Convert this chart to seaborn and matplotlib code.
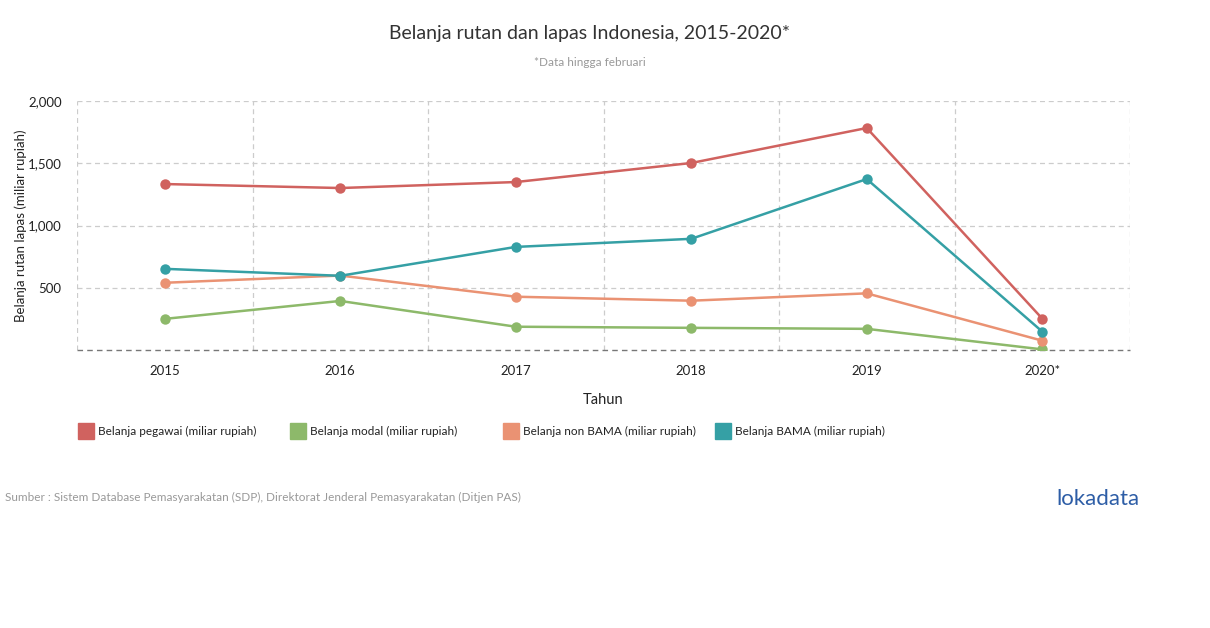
import pandas as pd
import seaborn as sns
import matplotlib.pyplot as plt
from matplotlib.patches import Rectangle

years = ["2015", "2016", "2017", "2018", "2019", "2020*"]
pegawai = [1333, 1301, 1349, 1502, 1783, 252]
modal = [250, 394, 187, 178, 170, 5]
non_bama = [540, 598, 428, 396, 455, 75]
bama = [652, 596, 828, 893, 1373, 148]

series = ["Belanja pegawai (miliar rupiah)", "Belanja modal (miliar rupiah)",
          "Belanja non BAMA (miliar rupiah)", "Belanja BAMA (miliar rupiah)"]
colors = ["#D0625F", "#8DB96A", "#EA9273", "#35A0A5"]

rows = []
for name, vals in zip(series, [pegawai, modal, non_bama, bama]):
    for i, (y, v) in enumerate(zip(years, vals)):
        rows.append({"pos": i, "Tahun": y, "value": v, "series": name})
df = pd.DataFrame(rows)

sns.set_style("white")
plt.rcParams["font.family"] = ["Lato", "DejaVu Sans"]

fig = plt.figure(figsize=(12.1, 6.28), dpi=100)
ax = fig.add_axes([77 / 1210, 1 - 350 / 628, (1130 - 77) / 1210, (350 - 101) / 628])

sns.lineplot(data=df, x="pos", y="value", hue="series", palette=colors,
             marker="o", markersize=7.5, markeredgewidth=0, linewidth=1.8,
             legend=False, ax=ax)

ax.set_xlim(-0.5, 5.5)
ax.set_ylim(0, 2000)
ax.set_xticks(range(len(years)))
ax.set_xticklabels(years)
ax.set_yticks([500, 1000, 1500, 2000])
ax.set_yticklabels(["500", "1,000", "1,500", "2,000"])

# dashed grid, vertical lines between categories
for yv in [500, 1000, 1500, 2000]:
    ax.axhline(yv, color="#cccccc", lw=0.9, ls=(0, (4, 3)), zorder=0)
for xv in [-0.5, 0.5, 1.5, 2.5, 3.5, 4.5, 5.5]:
    ax.axvline(xv, color="#cccccc", lw=0.9, ls=(0, (4, 3)), zorder=0)
ax.axhline(0, color="#777777", lw=1, ls=(0, (4, 3)), zorder=1, clip_on=False)
for s in ax.spines.values():
    s.set_visible(False)

ax.tick_params(axis="both", length=0, labelsize=9.5, colors="#222222")
ax.tick_params(axis="x", pad=11)
ax.tick_params(axis="y", pad=11)
ax.set_xlabel("Tahun", fontsize=10.5, color="#222222", labelpad=11)
ax.set_ylabel("Belanja rutan lapas (miliar rupiah)", fontsize=9.5, color="#222222")
ax.yaxis.set_label_coords(-(77 - 27) / (1130 - 77), 0.5)

fig.text(590 / 1210, 1 - 33 / 628, "Belanja rutan dan lapas Indonesia, 2015-2020*",
         ha="center", va="center", fontsize=14, color="#333333")
fig.text(590 / 1210, 1 - 62 / 628, "*Data hingga februari",
         ha="center", va="center", fontsize=8.5, color="#999999")

# legend
for i, (name, c) in enumerate(zip(series, colors)):
    x0 = 78 + i * 212.3
    fig.add_artist(Rectangle((x0 / 1210, 1 - 439 / 628), 16 / 1210, 16 / 628,
                             transform=fig.transFigure, color=c))
    fig.text((x0 + 20) / 1210, 1 - 431 / 628, name, ha="left", va="center",
             fontsize=8.5, color="#222222")

fig.text(5 / 1210, 1 - 497 / 628,
         "Sumber : Sistem Database Pemasyarakatan (SDP), Direktorat Jenderal Pemasyarakatan (Ditjen PAS)",
         ha="left", va="center", fontsize=8.5, color="#999999")
fig.text(1140 / 1210, 1 - 499 / 628, "lokadata", ha="right", va="center",
         fontsize=16, color="#2D5DA6")

fig.savefig("out.png", dpi=100)
